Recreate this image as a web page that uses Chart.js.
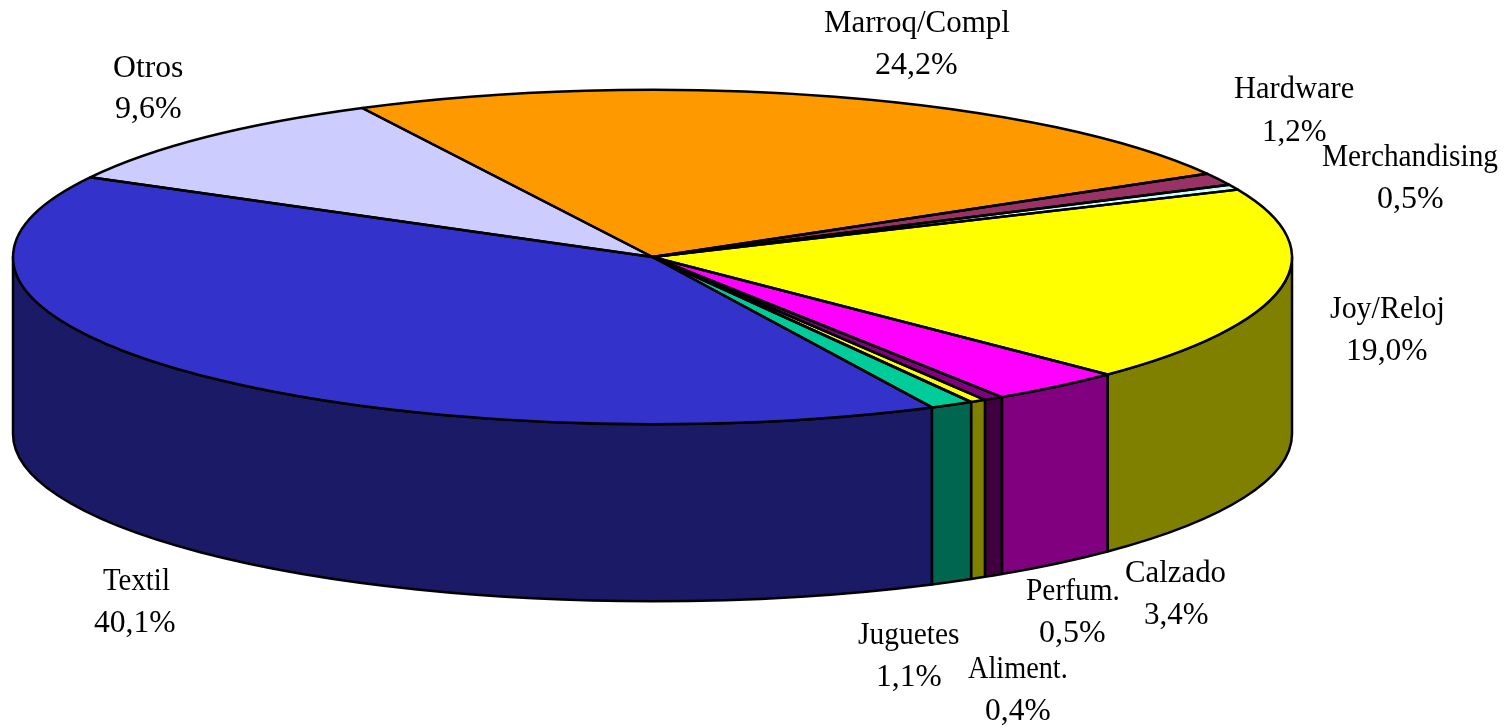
<!DOCTYPE html>
<html><head><meta charset="utf-8">
<style>html,body{margin:0;padding:0;background:#fff;overflow:hidden}#w{position:absolute;left:0;top:0;width:1509px;height:726px}</style>
<script src="https://cdn.jsdelivr.net/npm/chart.js@4"></script>
</head><body><div id="w"><canvas id="c" width="1509" height="726"></canvas></div>
<script>
const categories = ['Marroq/Compl','Hardware','Merchandising','Joy/Reloj','Calzado','Perfum.','Aliment.','Juguetes','Textil','Otros'];
const values = [24.2,1.2,0.5,19.0,3.4,0.5,0.4,1.1,40.1,9.6];
const valueLabels = ['24,2%','1,2%','0,5%','19,0%','3,4%','0,5%','0,4%','1,1%','40,1%','9,6%'];
const topColors = ['#FF9900','#993366','#CCFFFF','#FFFF00','#FF00FF','#800080','#FFFF00','#00CC99','#3333CC','#CCCCFF'];
const wallColors = ['#804D00','#4D1A33','#668080','#808000','#800080','#400040','#808000','#006650','#1A1A66','#666680'];
// text boxes: left, right, baseline
const nameBoxes = [[824,1010,32],[1234,1354,98],[1322,1498,166],[1330,1443,318],[1126,1225,582],[1026,1118,600],[968,1066,678],[858,959,644],[103,170,590],[114,183,77]];
const valueBoxes = [[876,957,74],[1264,1326,141],[1378,1443,208],[1348,1427,360],[1145,1208,624],[1040,1105,642],[986,1050,720],[878,941,686],[94,175,632],[116,181,118]];
const PIE = {cx:652.5, cy:257, r:639.5, k:0.2615, depth:177, startDeg:-27};
const LINE = 2.5;

function outlineTop(ctx, a){
  ctx.beginPath();
  ctx.moveTo(PIE.cx, PIE.cy);
  ctx.ellipse(PIE.cx, PIE.cy, PIE.r, PIE.r*PIE.k, 0, a.startAngle, a.endAngle);
  ctx.closePath();
}
function fitText(ctx, text, box){
  const m = ctx.measureText(text);
  const w = m.actualBoundingBoxLeft + m.actualBoundingBoxRight;
  const sx = (box[1]-box[0]) / w;
  ctx.save();
  ctx.translate(box[0] + m.actualBoundingBoxLeft*sx, box[2]);
  ctx.scale(sx, 1);
  ctx.fillText(text, 0, 0);
  ctx.restore();
}
const pie3d = {
  id:'pie3d',
  beforeDatasetsDraw(chart){
    const ctx = chart.ctx, arcs = chart.getDatasetMeta(0).data;
    const ry = PIE.r*PIE.k;
    ctx.save();
    ctx.lineWidth = LINE; ctx.strokeStyle = '#000'; ctx.lineJoin='round';
    const TAU = Math.PI*2;
    const pieces = [];
    arcs.forEach((a,i)=>{
      for (const off of [-TAU,0,TAU]) {
        const s = Math.max(a.startAngle+off,0), e = Math.min(a.endAngle+off,Math.PI);
        if (e > s) pieces.push([s,e,i]);
      }
    });
    pieces.sort((p,q)=>Math.abs(q[0]+q[1]-Math.PI)-Math.abs(p[0]+p[1]-Math.PI));
    pieces.forEach(([s,e,i])=>{
      ctx.beginPath();
      ctx.ellipse(PIE.cx,PIE.cy,PIE.r,ry,0,s,e);
      ctx.ellipse(PIE.cx,PIE.cy+PIE.depth,PIE.r,ry,0,e,s,true);
      ctx.closePath();
      ctx.fillStyle = wallColors[i];
      ctx.fill(); ctx.stroke();
    });
    ctx.restore();
    ctx.save();
    const a0 = arcs[0];
    ctx.translate(PIE.cx, PIE.cy);
    ctx.scale(1, PIE.k);
    ctx.translate(-a0.x, -a0.y);
  },
  afterDatasetsDraw(chart){
    const ctx = chart.ctx, arcs = chart.getDatasetMeta(0).data;
    ctx.restore();
    ctx.save();
    ctx.lineWidth = LINE; ctx.strokeStyle = '#000'; ctx.lineJoin='round';
    arcs.forEach(a=>{ outlineTop(ctx,a); ctx.stroke(); });
    ctx.restore();
    ctx.save();
    ctx.font = '32px "Liberation Serif", "Times New Roman", serif';
    ctx.fillStyle = '#000'; ctx.textAlign='left'; ctx.textBaseline='alphabetic';
    categories.forEach((c,i)=>{
      fitText(ctx,c,nameBoxes[i]);
      fitText(ctx,valueLabels[i],valueBoxes[i]);
    });
    ctx.restore();
  }
};
new Chart(document.getElementById('c'),{
  type:'pie',
  data:{labels:categories,datasets:[{data:values,backgroundColor:topColors,borderWidth:0,radius:PIE.r,hoverOffset:0}]},
  options:{
    responsive:false,animation:false,rotation:PIE.startDeg,
    layout:{padding:0},
    plugins:{legend:{display:false},tooltip:{enabled:false}}
  },
  plugins:[pie3d]
});
</script></body></html>
